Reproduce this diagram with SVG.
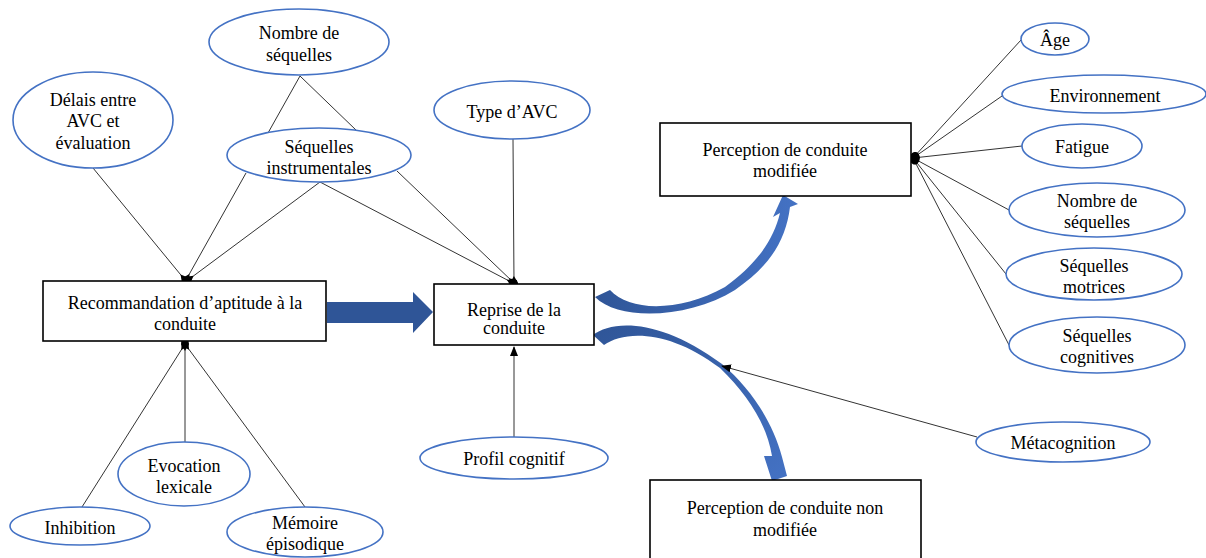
<svg xmlns="http://www.w3.org/2000/svg" width="1206" height="558" viewBox="0 0 1206 558">
<style>
.e{fill:#fff;stroke:#4472C4;stroke-width:1.6}
.r{fill:#fff;stroke:#000;stroke-width:1.6}
.t{font-family:"Liberation Serif","Times New Roman",serif;font-size:18px;fill:#000;text-anchor:middle}
.c{stroke:#333;stroke-width:1;fill:none}
</style>
<defs>
<marker id="dia" markerWidth="14" markerHeight="10" refX="7" refY="5" orient="auto" markerUnits="userSpaceOnUse">
<path d="M0,5 L7,1 L14,5 L7,9 Z" fill="#000"/>
</marker>
<marker id="oval" markerWidth="12" markerHeight="10" refX="3" refY="5" orient="auto" markerUnits="userSpaceOnUse">
<ellipse cx="5" cy="5" rx="5" ry="4" fill="#000"/>
</marker>
<marker id="tri" markerWidth="10" markerHeight="8" refX="9" refY="4" orient="auto" markerUnits="userSpaceOnUse">
<path d="M0,0 L10,4 L0,8 Z" fill="#000"/>
</marker>
<linearGradient id="g1" x1="0" y1="0" x2="1" y2="0">
<stop offset="0" stop-color="#2F5597"/>
<stop offset="1" stop-color="#4472C4"/>
</linearGradient>
<linearGradient id="g2" x1="0" y1="0" x2="1" y2="1">
<stop offset="0" stop-color="#2F5597"/>
<stop offset="1" stop-color="#4472C4"/>
</linearGradient>
</defs>

<g id="connectors">
<path d="M327,302 L413,302 L413,292 L433,312 L413,333 L413,323 L327,323 Z" fill="#2F5597"/>
<path d="M595,297 C620,322 690,318 735,290 C770,266 786,240 790,207 L798,204 L783,195 L773,217 L780,213 C773,242 755,265 725,287 C680,312 630,312 610,290 Z" fill="url(#g1)"/>
<path d="M593,335 C612,320 660,318 722,364 C750,388 772,420 782,457 L787,476 L772,481 L764,456 L772,456 C767,425 748,395 720,368 C670,330 625,330 604,345 Z" fill="url(#g2)"/>
<line class="c" x1="93" y1="168" x2="185" y2="280" marker-end="url(#dia)"/>
<line class="c" x1="300" y1="76" x2="268" y2="133"/>
<line class="c" x1="300" y1="76" x2="357" y2="131"/>
<line class="c" x1="246" y1="173" x2="186" y2="280" marker-end="url(#dia)"/>
<line class="c" x1="320" y1="182" x2="188" y2="280" marker-end="url(#dia)"/>
<line class="c" x1="320" y1="182" x2="513" y2="283" marker-end="url(#dia)"/>
<line class="c" x1="397" y1="171" x2="514" y2="283" marker-end="url(#dia)"/>
<line class="c" x1="513" y1="139" x2="514" y2="283" marker-end="url(#dia)"/>
<line class="c" x1="514" y1="437" x2="514" y2="347" marker-end="url(#tri)"/>
<line class="c" x1="82" y1="507" x2="185" y2="344" marker-end="url(#dia)"/>
<line class="c" x1="185" y1="442" x2="185" y2="344" marker-end="url(#dia)"/>
<line class="c" x1="305" y1="507" x2="185" y2="344" marker-end="url(#dia)"/>
<line class="c" x1="977" y1="437" x2="722" y2="366" marker-end="url(#tri)"/>
<line class="c" x1="913" y1="158" x2="1021" y2="40" marker-start="url(#oval)"/>
<line class="c" x1="913" y1="158" x2="1002" y2="96" marker-start="url(#oval)"/>
<line class="c" x1="913" y1="158" x2="1022" y2="146" marker-start="url(#oval)"/>
<line class="c" x1="913" y1="158" x2="1009" y2="210" marker-start="url(#oval)"/>
<line class="c" x1="913" y1="158" x2="1006" y2="274" marker-start="url(#oval)"/>
<line class="c" x1="913" y1="158" x2="1009" y2="345" marker-start="url(#oval)"/>
</g>

<g id="n-delais"><ellipse class="e" cx="93" cy="120" rx="80" ry="48"/>
<text class="t" x="93" y="106">Délais entre</text><text class="t" x="93" y="127">AVC et</text><text class="t" x="93" y="149">évaluation</text></g>
<g id="n-nombre1"><ellipse class="e" cx="299" cy="42" rx="90" ry="33"/>
<text class="t" x="299" y="39">Nombre de</text><text class="t" x="299" y="61">séquelles</text></g>
<g id="n-instr"><ellipse class="e" cx="319" cy="155" rx="92" ry="27"/>
<text class="t" x="319" y="153">Séquelles</text><text class="t" x="319" y="174">instrumentales</text></g>
<g id="n-type"><ellipse class="e" cx="512" cy="110" rx="78" ry="29"/>
<text class="t" x="512" y="118">Type d’AVC</text></g>
<g id="n-recom"><rect class="r" x="43" y="281" width="283" height="60"/>
<text class="t" x="185" y="309">Recommandation d’aptitude à la</text><text class="t" x="185" y="330">conduite</text></g>
<g id="n-reprise"><rect class="r" x="434" y="284" width="160" height="61"/>
<text class="t" x="514" y="316">Reprise de la</text><text class="t" x="514" y="334">conduite</text></g>
<g id="n-pmod"><rect class="r" x="660" y="123" width="251" height="73"/>
<text class="t" x="785" y="156">Perception de conduite</text><text class="t" x="785" y="177">modifiée</text></g>
<g id="n-pnonmod"><rect class="r" x="650" y="480" width="271" height="82"/>
<text class="t" x="785" y="514">Perception de conduite non</text><text class="t" x="785" y="536">modifiée</text></g>
<g id="n-age"><ellipse class="e" cx="1055" cy="39" rx="34" ry="16"/>
<text class="t" x="1055" y="46">Âge</text></g>
<g id="n-env"><ellipse class="e" cx="1104" cy="94" rx="102" ry="19"/>
<text class="t" x="1105" y="102">Environnement</text></g>
<g id="n-fatigue"><ellipse class="e" cx="1082" cy="146" rx="60" ry="22"/>
<text class="t" x="1082" y="153">Fatigue</text></g>
<g id="n-nombre2"><ellipse class="e" cx="1097" cy="210" rx="88" ry="27"/>
<text class="t" x="1097" y="207">Nombre de</text><text class="t" x="1097" y="228">séquelles</text></g>
<g id="n-motr"><ellipse class="e" cx="1094" cy="274" rx="88" ry="26"/>
<text class="t" x="1094" y="272">Séquelles</text><text class="t" x="1094" y="293">motrices</text></g>
<g id="n-cogn"><ellipse class="e" cx="1097" cy="345" rx="88" ry="28"/>
<text class="t" x="1097" y="342">Séquelles</text><text class="t" x="1097" y="363">cognitives</text></g>
<g id="n-meta"><ellipse class="e" cx="1063" cy="442" rx="87" ry="20"/>
<text class="t" x="1063" y="449">Métacognition</text></g>
<g id="n-profil"><ellipse class="e" cx="514" cy="458" rx="94" ry="21"/>
<text class="t" x="514" y="465">Profil cognitif</text></g>
<g id="n-inhib"><ellipse class="e" cx="80" cy="526" rx="70" ry="19"/>
<text class="t" x="80" y="534">Inhibition</text></g>
<g id="n-evoc"><ellipse class="e" cx="184" cy="474" rx="66" ry="32"/>
<text class="t" x="184" y="472">Evocation</text><text class="t" x="184" y="493">lexicale</text></g>
<g id="n-mem"><ellipse class="e" cx="305" cy="532" rx="78" ry="25"/>
<text class="t" x="305" y="529">Mémoire</text><text class="t" x="305" y="550">épisodique</text></g>
</svg>
